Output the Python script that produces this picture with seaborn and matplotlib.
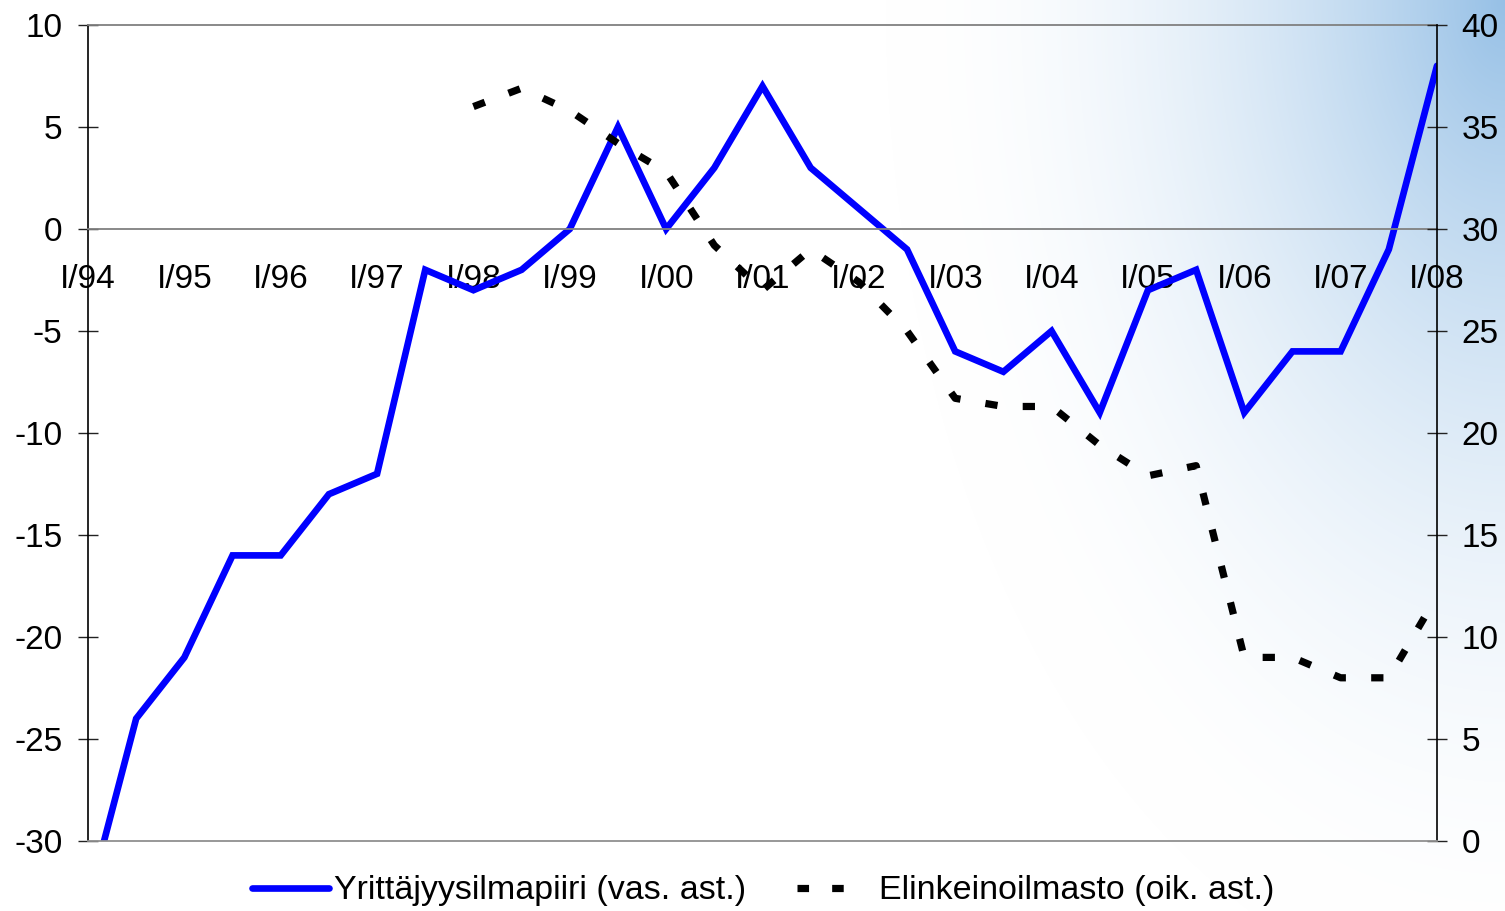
import numpy as np
import pandas as pd
import matplotlib
matplotlib.use("Agg")
import matplotlib.pyplot as plt
from matplotlib.lines import Line2D
import seaborn as sns

# ---------------- data ----------------
periods = ["I/94", "II/94", "I/95", "II/95", "I/96", "II/96", "I/97", "II/97",
           "I/98", "II/98", "I/99", "II/99", "I/00", "II/00", "I/01", "II/01",
           "I/02", "II/02", "I/03", "II/03", "I/04", "II/04", "I/05", "II/05",
           "I/06", "II/06", "I/07", "II/07", "I/08"]
yrittajyys = [-33, -24, -21, -16, -16, -13, -12, -2,
              -3, -2, 0, 5, 0, 3, 7, 3,
              1, -1, -6, -7, -5, -9, -3, -2,
              -9, -6, -6, -1, 8]
elinkeino = [np.nan] * 8 + [36.0, 36.9, 35.8, 34.2, 32.8, 29.2, 27.0, 29.0,
                            27.4, 25.0, 21.7, 21.3, 21.3, 19.4, 17.9, 18.4,
                            9.0, 9.0, 8.0, 8.0, 12.0]
left_ticks = [-30, -25, -20, -15, -10, -5, 0, 5, 10]
right_ticks = [0, 5, 10, 15, 20, 25, 30, 35, 40]
series_labels = ["Yrittäjyysilmapiiri (vas. ast.)", "Elinkeinoilmasto (oik. ast.)"]

sns.set_style("white")
plt.rcParams['font.family'] = ['Liberation Sans', 'DejaVu Sans']
plt.rcParams['text.color'] = 'black'

W, H = 1505, 911
fig = plt.figure(figsize=(W / 100, H / 100), dpi=100)
fig.patch.set_facecolor("white")

# background gradient (decoration, top-right corner)
bg = fig.add_axes([0, 0, 1, 1], zorder=-10)
yy, xx = np.mgrid[0:H, 0:W]
d = np.sqrt(((W - xx) / 620.0) ** 2 + (yy / 1000.0) ** 2)
t = np.clip(1 - d, 0, 1) ** 2.0
corner = np.array([150, 192, 230]) / 255.0
img = (1 - t[..., None]) * np.ones(3) + t[..., None] * corner
bg.imshow(img, aspect='auto', extent=[0, 1, 0, 1], origin='upper')
bg.axis('off')

df = pd.DataFrame({"pos": np.arange(len(periods)),
                   "yr": yrittajyys, "el": elinkeino})

ax = fig.add_axes([88 / W, 1 - 841 / H, (1437 - 88) / W, (841 - 25) / H])
ax.patch.set_alpha(0)
sns.lineplot(data=df, x="pos", y="yr", ax=ax, color="#0000FF", linewidth=4.8)
ln1 = ax.lines[0]
ln1.set_solid_joinstyle('miter')

ax2 = ax.twinx()
ax2.patch.set_alpha(0)
sns.lineplot(data=df, x="pos", y="el", ax=ax2, color="black", linewidth=5.2)
ln2 = ax2.lines[0]
ln2.set_linestyle((0, (1.7, 3.5)))
ln2.set_dash_capstyle('butt')

ax.set_xlim(0, len(periods) - 1)
ax.set_ylim(-30, 10)
ax2.set_ylim(0, 40)
for a in (ax, ax2):
    a.set_xlabel("")
    a.set_ylabel("")

# spines
ax.spines['bottom'].set_position(('data', 0))
ax.spines['bottom'].set_color('#808080')
ax.spines['bottom'].set_linewidth(1.3)
ax.spines['top'].set_color('#808080')
ax.spines['top'].set_linewidth(1.3)
ax.spines['right'].set_visible(False)
ax.spines['left'].set_color('black')
ax.spines['left'].set_linewidth(1.2)
ax2.spines['left'].set_visible(False)
ax2.spines['top'].set_visible(False)
ax2.spines['bottom'].set_color('#909090')
ax2.spines['bottom'].set_linewidth(1.3)
ax2.spines['right'].set_color('black')
ax2.spines['right'].set_linewidth(1.2)

# ticks
ax.set_xticks(np.arange(0, len(periods), 2))
ax.set_xticklabels(periods[::2])
ax.set_xticks(np.arange(1, len(periods), 2), minor=True)
ax.tick_params(axis='x', which='both', direction='inout', length=15, width=1,
               color='#222222', labelsize=24, pad=18, labelcolor='black')
ax.set_yticks(left_ticks)
ax.set_yticklabels([str(v) for v in left_ticks])
ax.tick_params(axis='y', direction='inout', length=15, width=1, color='#222222',
               labelsize=24, pad=11, labelcolor='black')
ax2.set_yticks(right_ticks)
ax2.set_yticklabels([str(v) for v in right_ticks])
ax2.tick_params(axis='y', direction='inout', length=15, width=1, color='#222222',
                labelsize=24, pad=10, labelcolor='black')

h1 = Line2D([], [], color="#0000FF", linewidth=4.8)
h2 = Line2D([], [], color="black", linewidth=5.2,
            linestyle=(0, (1.6, 3.2, 1.6, 12)), dash_capstyle='butt')
fig.legend([h1, h2], series_labels, loc='center',
           bbox_to_anchor=(763 / W, 1 - 891 / H), ncol=2, frameon=False,
           fontsize=24.5, handlelength=2.25, handletextpad=0.15,
           columnspacing=1.5, labelcolor='black')

fig.savefig("out.png", dpi=100)
